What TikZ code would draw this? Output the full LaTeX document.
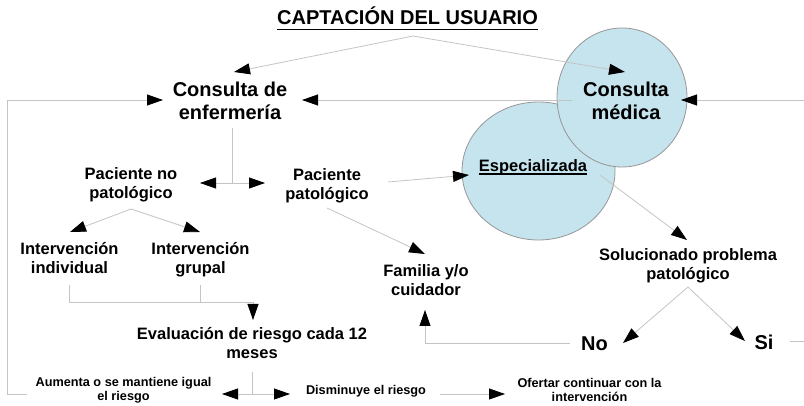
\documentclass[tikz,border=0pt]{standalone}
\usepackage{fontspec}
\setmainfont{Liberation Sans}
\usetikzlibrary{arrows.meta}
\definecolor{lnc}{RGB}{196,196,196}
\definecolor{cfill}{RGB}{197,228,238}
\definecolor{cedge}{RGB}{150,150,150}
\tikzset{
  lbl/.style={inner sep=0pt, align=center, font=\bfseries\fontsize{16.5}{19}\selectfont},
  big/.style={inner sep=0pt, align=center, font=\bfseries\fontsize{20}{23.5}\selectfont},
  sml/.style={inner sep=0pt, align=center, font=\bfseries\fontsize{12.7}{14.2}\selectfont},
  ln/.style={draw=lnc, line width=0.8pt},
  arr/.style={ln, -{Triangle[length=16pt,width=11pt,color=black]}},
  blob/.style={draw=cedge, fill=cfill, line width=0.8pt},
}
\begin{document}
\begin{tikzpicture}[x=1pt,y=-1pt]
\useasboundingbox (0,0) rectangle (804,406);
% circles
\draw[blob] (538.5,171) ellipse [x radius=76.5, y radius=69];
\draw[blob] (622,97.5) ellipse [x radius=65, y radius=69.5];
% nodes
\node[big, anchor=base] (title) at (407.5,25) {CAPTACIÓN DEL USUARIO};
\draw[black, line width=1.4pt] ([yshift=-4.5pt]title.base west) -- ([yshift=-4.5pt]title.base east);
\node[big] (enf) at (230,101) {Consulta de\\enfermería};
\node[big] (med) at (626,101) {Consulta\\médica};
\node[lbl, anchor=base] (esp) at (533,172) {Especializada};
\draw[black, line width=1.1pt] ([yshift=-2pt]esp.base west) -- ([yshift=-2pt]esp.base east);
\node[lbl] (pnp) at (131,185) {Paciente no\\patológico};
\node[lbl] (pp) at (327,186) {Paciente\\patológico};
\node[lbl] (ii) at (69.5,258) {Intervención\\individual};
\node[lbl] (ig) at (200.5,259.5) {Intervención\\grupal};
\node[lbl] (fam) at (426,280) {Familia y/o\\cuidador};
\node[lbl] (sol) at (688,265.5) {Solucionado problema\\patológico};
\node[big, anchor=base] (no) at (594.5,351) {No};
\node[big, anchor=base] (si) at (764,350) {Si};
\node[lbl] (ev) at (252,343) {Evaluación de riesgo cada 12\\meses};
\node[sml] (aum) at (123.5,390) {Aumenta o se mantiene igual\\el riesgo};
\node[sml, anchor=base] (dis) at (366,395) {Disminuye el riesgo};
\node[sml] (ofe) at (589.5,390) {Ofertar continuar con la\\intervención};
% coordinates
\coordinate (apex) at (413,36);
\coordinate (enfT) at (234,72);
\coordinate (medT) at (625,72);
\coordinate (aumL) at (27,394);
\coordinate (lc1) at (7,394);
\coordinate (lc2) at (7,100);
\coordinate (enfL) at (163,100);
\coordinate (medL) at (572,100);
\coordinate (enfR) at (302,100);
\coordinate (rEdge) at (804,100);
\coordinate (medR) at (681,100);
\coordinate (enfB) at (232,128);
\coordinate (jA) at (232,183);
\coordinate (pnpR) at (200,183);
\coordinate (ppL) at (265,183);
\coordinate (pnpB) at (131,209);
\coordinate (iiT) at (70,232);
\coordinate (igT) at (200,232);
\coordinate (ppB) at (327,208);
\coordinate (famT) at (425,254);
\coordinate (ppR) at (388,182);
\coordinate (espL) at (469,175);
\coordinate (espR) at (600,175);
\coordinate (solT) at (687,240);
\coordinate (solB) at (688,287);
\coordinate (noT) at (623,343);
\coordinate (siT) at (745,341);
\coordinate (noL) at (570,343);
\coordinate (fc) at (425,343);
\coordinate (famB) at (425,310);
\coordinate (siR) at (790,341);
\coordinate (siE) at (804,341);
\coordinate (iiB) at (69,285);
\coordinate (iiC) at (69,302);
\coordinate (igB) at (200,285);
\coordinate (igC) at (200,302);
\coordinate (evC) at (253,302);
\coordinate (evT) at (253,320);
\coordinate (evB) at (252,372);
\coordinate (jB) at (252,394);
\coordinate (aumR) at (222,394);
\coordinate (disL) at (290,394);
\coordinate (disR) at (440,394);
\coordinate (ofeL) at (505,394);
% connectors
\draw[arr] (apex) -- (enfT);
\draw[arr] (apex) -- (medT);
\draw[arr] (aumL) -- (lc1) -- (lc2) -- (enfL);
\draw[arr] (medL) -- (enfR);
\draw[arr] (rEdge) -- (medR);
\draw[ln] (enfB) -- (jA);
\draw[arr] (jA) -- (pnpR);
\draw[arr] (jA) -- (ppL);
\draw[arr] (pnpB) -- (iiT);
\draw[arr] (pnpB) -- (igT);
\draw[arr] (ppB) -- (famT);
\draw[arr] (ppR) -- (espL);
\draw[arr] (espR) -- (solT);
\draw[arr] (solB) -- (noT);
\draw[arr] (solB) -- (siT);
\draw[arr] (noL) -- (fc) -- (famB);
\draw[ln] (siR) -- (siE);
\draw[ln] (igB) -- (igC);
\draw[arr] (iiB) -- (iiC) -- (evC) -- (evT);
\draw[ln] (evB) -- (jB);
\draw[arr] (jB) -- (aumR);
\draw[arr] (jB) -- (disL);
\draw[arr] (disR) -- (ofeL);
\end{tikzpicture}
\end{document}
